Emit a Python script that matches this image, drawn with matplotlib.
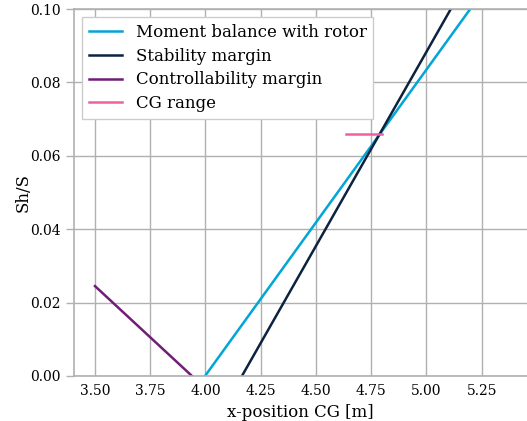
import numpy as np
import matplotlib.pyplot as plt

# datos
x_moment = [3.998, 5.30]
y_moment = [0.0, 0.1085]

x_stab = [4.165, 5.20]
y_stab = [0.0, 0.1095]

x_ctrl = [3.50, 3.939]
y_ctrl = [0.0245, 0.0]

x_cg = [4.635, 4.798]
y_cg = [0.066, 0.066]

xticks = [3.50, 3.75, 4.00, 4.25, 4.50, 4.75, 5.00, 5.25]
yticks = [0.00, 0.02, 0.04, 0.06, 0.08, 0.10]

plt.rcParams['font.family'] = 'DejaVu Serif'

fig = plt.figure(figsize=(5.27, 4.21), dpi=100)
ax = fig.add_axes([0.1404, 0.1069, 0.8596, 0.8717])

ax.plot(x_moment, y_moment, color="#00a6d6", lw=1.8, label="Moment balance with rotor")
ax.plot(x_stab, y_stab, color="#0c2340", lw=1.8, label="Stability margin")
ax.plot(x_ctrl, y_ctrl, color="#6f1d77", lw=1.8, label="Controllability margin")
ax.plot(x_cg, y_cg, color="#ef60a3", lw=1.8, label="CG range")

ax.set_xlim(3.405, 5.455)
ax.set_ylim(0, 0.10)
ax.set_xticks(xticks)
ax.set_yticks(yticks)
ax.set_xticklabels([f"{t:.2f}" for t in xticks])
ax.set_yticklabels([f"{t:.2f}" for t in yticks])

ax.grid(True, color="#b0b0b0", lw=1)
ax.set_axisbelow(True)
for s in ["left", "bottom", "top"]:
    ax.spines[s].set_color("#b0b0b0")
    ax.spines[s].set_linewidth(1.2)
ax.spines["right"].set_visible(False)
ax.tick_params(axis="y", color="#b0b0b0", length=6, width=1, labelsize=10)
ax.tick_params(axis="x", length=0, labelsize=10, pad=6)

ax.set_xlabel("x-position CG [m]", fontsize=12)
ax.set_ylabel("Sh/S", fontsize=12, labelpad=-1)

leg = ax.legend(loc="upper left", fontsize=12,
                fancybox=False, framealpha=1, edgecolor="#cccccc",
                handlelength=2.0, borderpad=0.4, labelspacing=0.4)

fig.savefig("out.png", dpi=100)
